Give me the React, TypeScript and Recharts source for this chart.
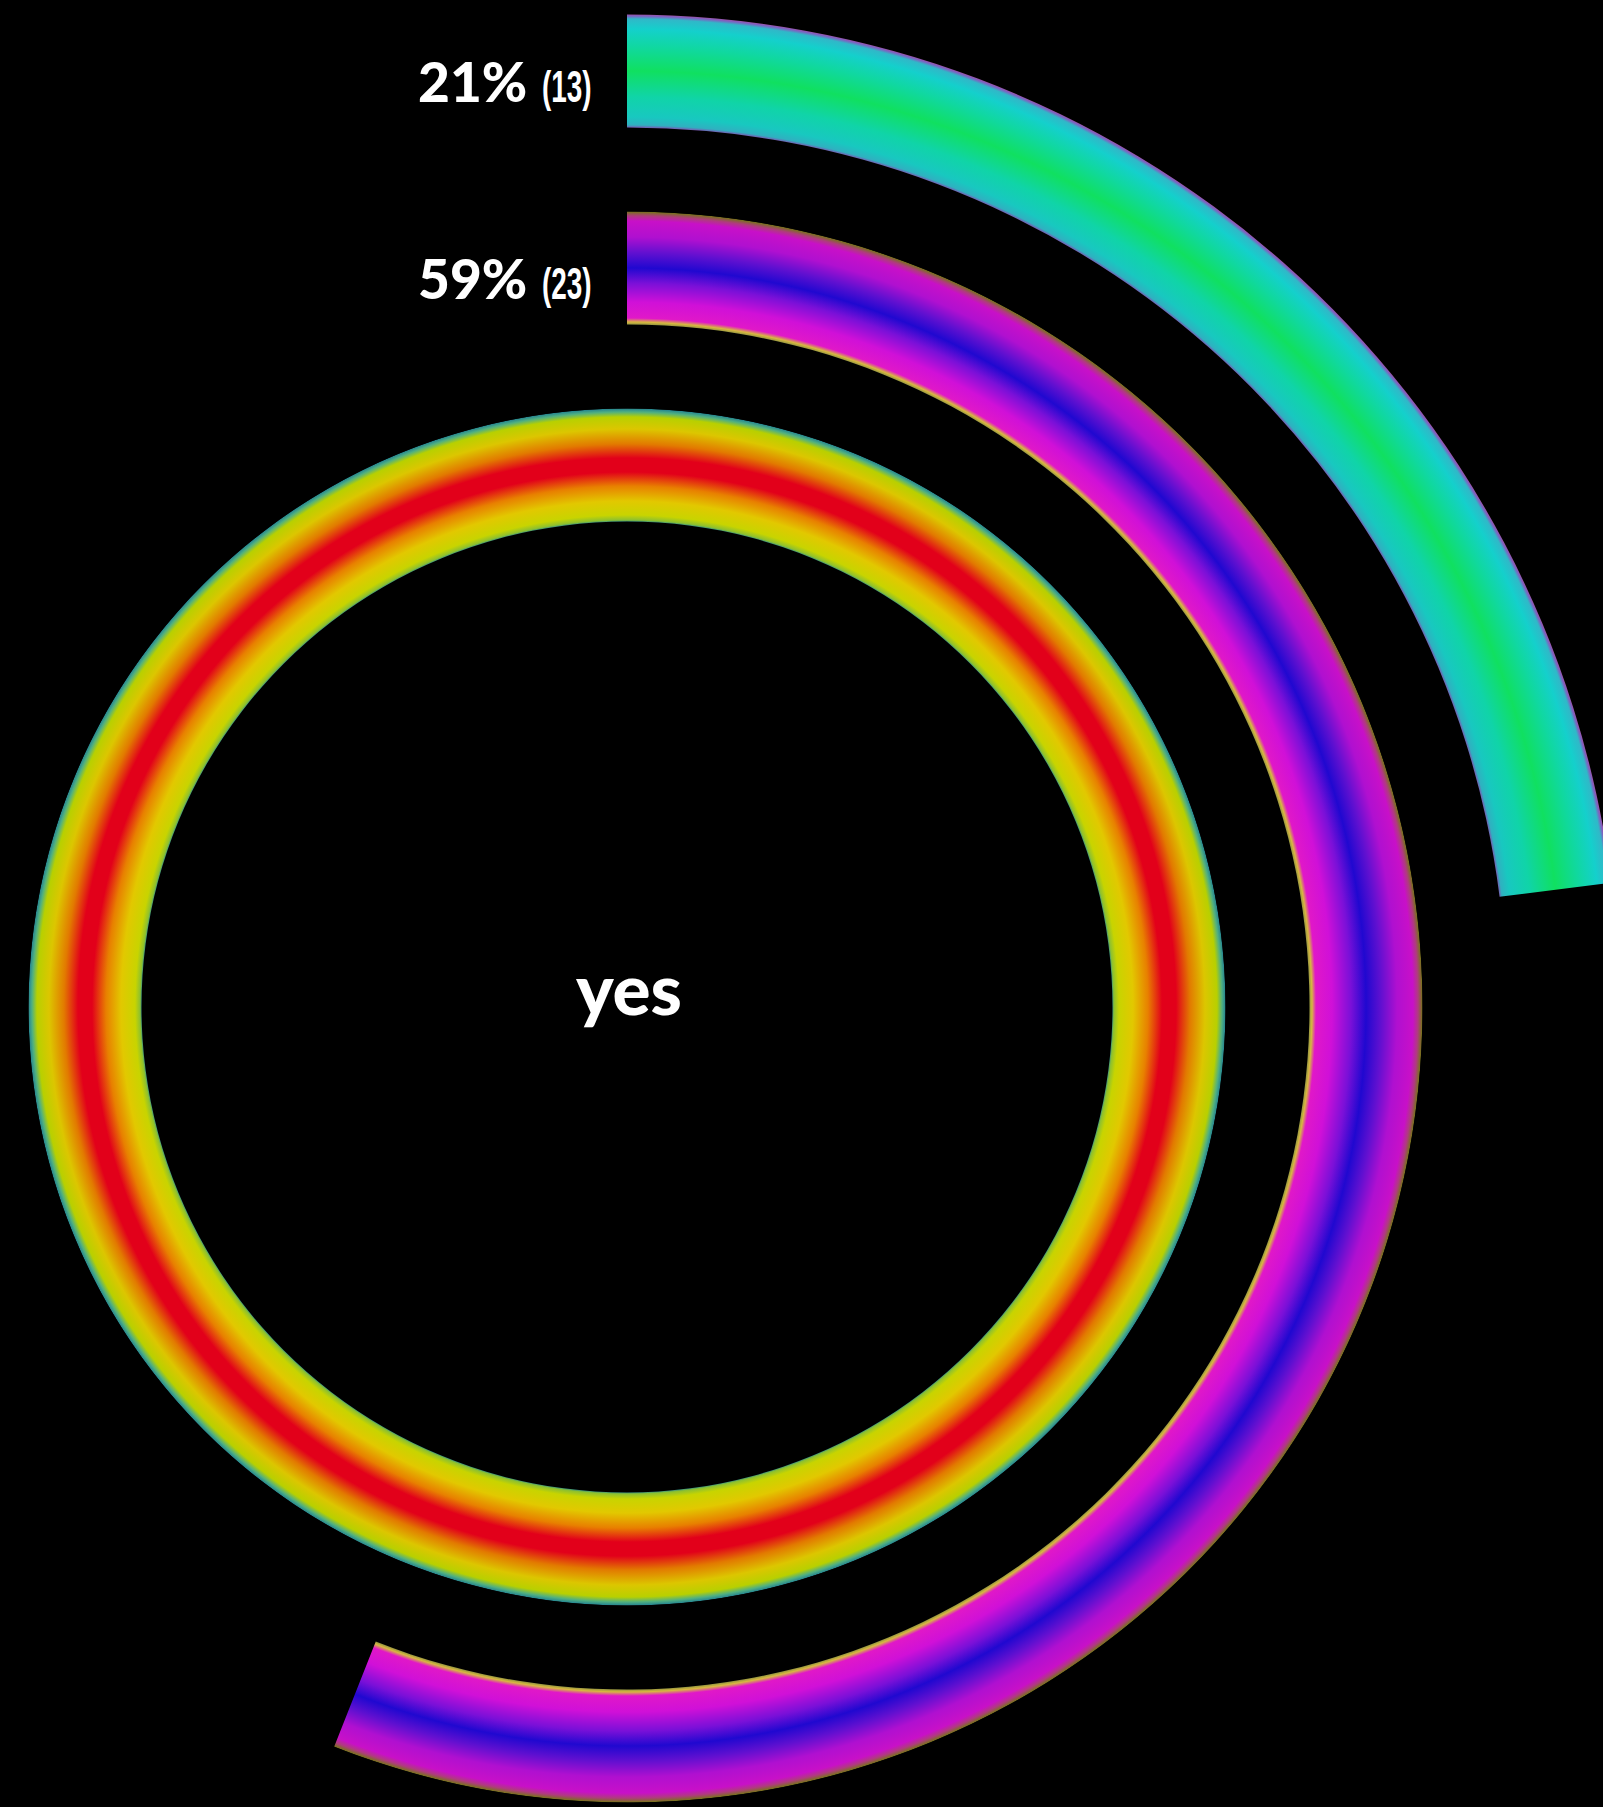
import React from 'react';
import { RadialBarChart, RadialBar, PolarAngleAxis, Cell, LabelList } from 'recharts';

// rings from inside to outside
const ringNames = ['all', 'second', 'first'];
const arcShare = [100, 56, 23];
const pctLabels = ['', '59%', '21%'];
const countLabels = ['', '(23)', '(13)'];
const centerLabel = 'yes';

const CX = 627;
const CY = 1007;
const GR = 1000;

// radial colour bands across each ring (radius in px -> colour)
const ringStops: [number, string][][] = [
  [
    [484, '#000000'], [485, '#2a8a90'], [487, '#8cc030'], [492, '#c8d400'], [506, '#e2c800'],
    [521, '#e88000'], [535, '#e2001a'], [549, '#e2001a'], [563, '#e27a00'], [578, '#dcc600'],
    [590, '#b8d000'], [595, '#50b080'], [598, '#2a8a90'], [599, '#000000'],
  ],
  [
    [681, '#000000'], [682, '#8a9040'], [685, '#d8b840'], [689, '#e018c8'], [705, '#d010d8'],
    [724, '#7a10d8'], [739, '#2008d0'], [754, '#6010d0'], [770, '#b010d0'], [786, '#c810c8'],
    [791, '#b03a80'], [795, '#7a7020'], [796, '#000000'],
  ],
  [
    [878, '#000000'], [879, '#8050b0'], [882, '#30b0c0'], [890, '#18c8c0'], [910, '#10d4a8'],
    [936, '#10e060'], [960, '#10d8a0'], [978, '#14d0cc'], [988, '#30b8c8'], [991, '#8060c0'],
    [993, '#a050a0'], [994, '#000000'],
  ],
];

const data = ringNames.map((name, i) => ({ name, value: arcShare[i] }));

const renderLabel = (props: any) => {
  const { index, viewBox } = props;
  const vb = viewBox || {};
  const cx = vb.cx ?? CX;
  const cy = vb.cy ?? CY;
  if (index === 0) {
    return (
      <text x={cx + 2} y={cy + 8} textAnchor="middle" fill="#fff" fontFamily="Lato" fontWeight={900} fontSize={71}>
        {centerLabel}
      </text>
    );
  }
  const mid = (vb.innerRadius + vb.outerRadius) / 2;
  const y = cy - mid + 31;
  const x = cx - 209;
  const countX = x + pctLabels[index].length * 34 + 22;
  return (
    <g>
      <text x={x} y={y} fill="#fff" fontFamily="Lato" fontWeight={900} fontSize={55}>
        {pctLabels[index]}
      </text>
      <text
        transform={`translate(${countX},${y}) scale(0.62,1)`}
        x={0}
        y={0}
        fill="#fff"
        fontFamily="'Liberation Sans', Arial, sans-serif"
        fontWeight={700}
        fontSize={45}
      >
        {countLabels[index]}
      </text>
    </g>
  );
};

export default function App() {
  return (
    <div style={{ position: 'absolute', left: 0, top: 0, width: 1603, height: 1807, background: '#000' }}>
      <RadialBarChart
        width={1603}
        height={1807}
        data={data}
        cx={CX}
        cy={CY}
        innerRadius={443.5}
        outerRadius={1034.5}
        startAngle={90}
        endAngle={-270}
        barSize={113}
        margin={{ top: 0, right: 0, bottom: 0, left: 0 }}
      >
        <defs>
          {ringStops.map((stops, i) => (
            <radialGradient key={i} id={`ring${i}`} gradientUnits="userSpaceOnUse" cx={CX} cy={CY} r={GR}>
              {stops.map(([r, c], j) => (
                <stop key={j} offset={r / GR} stopColor={c} />
              ))}
            </radialGradient>
          ))}
        </defs>
        <PolarAngleAxis type="number" domain={[0, 100]} tick={false} axisLine={false} />
        <RadialBar dataKey="value" isAnimationActive={false}>
          {data.map((d, i) => (
            <Cell key={d.name} fill={`url(#ring${i})`} />
          ))}
          <LabelList dataKey="value" content={renderLabel} />
        </RadialBar>
      </RadialBarChart>
    </div>
  );
}
